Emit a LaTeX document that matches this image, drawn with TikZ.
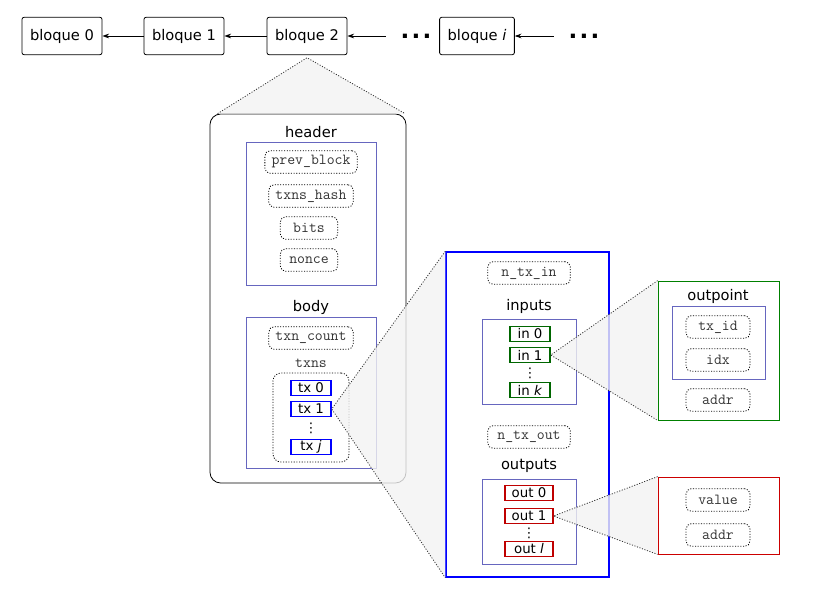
\documentclass[tikz,border=0pt]{standalone}
\usepackage{fontspec}
\setmainfont{DejaVu Sans}
\usetikzlibrary{arrows.meta}
\definecolor{panelcol}{rgb}{0.4,0.4,0.75}

\begin{document}
\begin{tikzpicture}[x=0.75pt, y=-0.75pt,
    bloque/.style={draw, semithick, rounded corners=1.5pt, minimum height=28pt, inner xsep=6pt, font=\fontsize{11}{13}\selectfont},
    arr/.style={-{Stealth[length=5pt, width=3.5pt]}, semithick},
    lbl/.style={font=\fontsize{11}{13}\selectfont},
    mono/.style={font=\ttfamily\fontsize{11.5}{13}\selectfont, text=black!80},
    panel/.style={draw=panelcol, inner sep=0pt},
    dots/.style={line width=0.6pt, dash pattern=on 0.8pt off 1.2pt},
    field/.style={draw, dots, rounded corners=4pt, mono, minimum height=17pt, inner xsep=5pt},
    item/.style={draw, line width=1.1pt, fill=white, minimum height=11pt, inner sep=0pt},
    vdot/.style={inner sep=0pt, font=\fontsize{10}{10}\selectfont},
    zoomshade/.style={draw=black!80, dots, fill=gray!10, fill opacity=0.8}]
  \useasboundingbox (0,0) rectangle (813,597);

  % cadena de bloques
  \node[bloque] (b0) at (62,36) {bloque 0};
  \node[bloque] (b1) at (184,36) {bloque 1};
  \node[bloque] (b2) at (307,36) {bloque 2};
  \node[font=\LARGE\bfseries, inner sep=0pt] (d1) at (416,36) {.\kern1.6pt.\kern1.6pt.};
  \node[bloque] (bi) at (477,36) {bloque \textit{i}};
  \node[font=\LARGE\bfseries, inner sep=0pt] (d2) at (584,36) {.\kern1.6pt.\kern1.6pt.};

  \draw[arr] (b1) -- (b0);
  \draw[arr] (b2) -- (b1);
  \draw[arr, shorten <=11pt] (d1) -- (b2);
  \draw[arr, shorten <=11pt] (d2) -- (bi);

  % bloque
  \node[draw, semithick, rounded corners=8pt, minimum width=147pt, minimum height=276.75pt] (block) at (308,298.5) {};
  \draw[zoomshade] ([xshift=6pt]block.north west) -- ([yshift=-2pt]b2.south) -- ([xshift=-1pt]block.north east);

  % header
  \node[lbl] (hdr) at (311,132) {header};
  \node[panel, minimum width=97.5pt, minimum height=107.25pt] (hbox) at (311,213.5) {};
  \node[field] (prev) at (311,162) {prev\_block};
  \node[field] (hash) at (311,196) {txns\_hash};
  \node[field, minimum width=43pt] (bits) at (309,228) {bits};
  \node[field, minimum width=43pt] (nonce) at (309,260) {nonce};

  % body
  \node[lbl] (bdy) at (311,307) {body};
  \node[panel, minimum width=97.5pt, minimum height=113.25pt] (bbox) at (311,392.5) {};
  \node[field] (count) at (311,338) {txn\_count};
  \node[mono] (txnslbl) at (311,363) {txns};
  \node[draw, dots, rounded corners=6pt, minimum width=57pt, minimum height=66.75pt] (txns) at (311,417.5) {};
  \node[item, draw=blue, minimum width=30pt] (tx0) at (311,388) {tx 0};
  \node[item, draw=blue, minimum width=30pt] (tx1) at (311,409) {tx 1};
  \node[vdot] (txdots) at (311,428) {⋮};
  \node[item, draw=blue, minimum width=30pt] (txj) at (311,447) {tx \textit{j}};

  % transaccion
  \node[draw=blue, line width=1.1pt, minimum width=122.25pt, minimum height=243.75pt] (txbox) at (527.5,414.5) {};
  \node[field, minimum width=62pt] (ntxin) at (529,273) {n\_tx\_in};
  \node[lbl] (inlbl) at (529,306) {inputs};
  \node[panel, minimum width=70.5pt, minimum height=63.75pt] (inbox) at (529,361.5) {};
  \node[item, draw=green!40!black, minimum width=30pt] (in0) at (530,334) {in 0};
  \node[item, draw=green!40!black, minimum width=30pt] (in1) at (530,355) {in 1};
  \node[vdot] (indots) at (530,373) {⋮};
  \node[item, draw=green!40!black, minimum width=30pt] (ink) at (530,390) {in \textit{k}};
  \node[field, minimum width=62pt] (ntxout) at (529,437) {n\_tx\_out};
  \node[lbl] (outlbl) at (529,466) {outputs};
  \node[panel, minimum width=70.5pt, minimum height=63.75pt] (outbox) at (529,521.5) {};
  \node[item, draw=red!75!black, line width=0.9pt, minimum width=36pt] (out0) at (529,493) {out 0};
  \node[item, draw=red!75!black, line width=0.9pt, minimum width=36pt] (out1) at (529,516) {out 1};
  \node[vdot] (outdots) at (529,533) {⋮};
  \node[item, draw=red!75!black, line width=0.9pt, minimum width=36pt] (outl) at (529,549) {out \textit{l}};

  \draw[zoomshade] (txbox.north west) -- (tx1.east) -- (txbox.south west);

  % outpoint
  \node[draw=green!50!black, semithick, minimum width=90.75pt, minimum height=104.25pt] (opbox) at (718.5,350.5) {};
  \node[lbl] (oplbl) at (718,296) {outpoint};
  \node[panel, minimum width=69.75pt, minimum height=54.75pt] (opin) at (718.5,342.5) {};
  \node[field, minimum width=48pt] (txid) at (718,327) {tx\_id};
  \node[field, minimum width=48pt] (idx) at (718,360) {idx};
  \node[field, minimum width=48pt] (opaddr) at (718,400) {addr};

  % salida
  \node[draw=red!80!black, semithick, minimum width=90.75pt, minimum height=57.75pt] (valbox) at (718.5,515.5) {};
  \node[field, minimum width=48pt] (value) at (718,500) {value};
  \node[field, minimum width=48pt] (valaddr) at (718,535) {addr};

  \draw[zoomshade] (opbox.north west) -- (in1.east) -- (opbox.south west);
  \draw[zoomshade] (valbox.north west) -- (out1.east) -- (valbox.south west);
\end{tikzpicture}
\end{document}
